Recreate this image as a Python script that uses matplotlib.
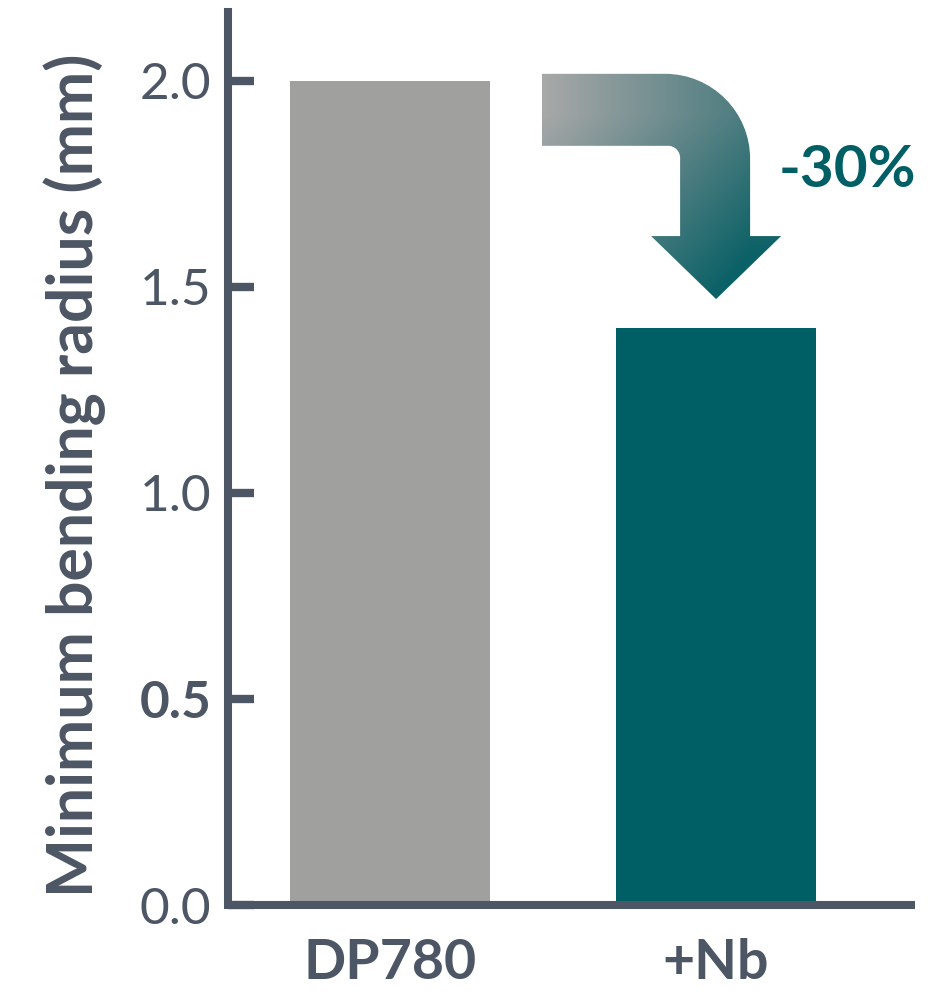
import numpy as np
import matplotlib
matplotlib.use("Agg")
import matplotlib.pyplot as plt
from matplotlib.path import Path
from matplotlib.patches import PathPatch
from matplotlib.colors import LinearSegmentedColormap

# Daten
categories = ["DP780", "+Nb"]
values = [2.0, 1.4]
bar_colors = ["#a0a09f", "#005f64"]
yticks = [0.0, 0.5, 1.0, 1.5, 2.0]
change_label = "-30%"

axis_col = "#4d5664"
teal = "#005f64"

plt.rcParams["font.family"] = ["Lato", "DejaVu Sans"]

W, H = 946, 996
fig = plt.figure(figsize=(W / 100, H / 100), dpi=100)
ax = fig.add_axes([228 / W, 1 - 905 / H, (915 - 228) / W, (905 - 12) / H])

x = np.arange(len(categories))
ax.bar(x, values, width=0.613, color=bar_colors, zorder=1)

ax.set_xlim(-0.497, 1.61)
ax.set_ylim(0, 2.167)
ax.set_yticks(yticks)
ax.set_yticklabels([f"{v:.1f}" for v in yticks])
ax.set_xticks(x)
ax.set_xticklabels(categories)

for s in ["top", "right"]:
    ax.spines[s].set_visible(False)
for s in ["left", "bottom"]:
    ax.spines[s].set_color(axis_col)
    ax.spines[s].set_linewidth(5.8)
    ax.spines[s].set_zorder(3)
ax.spines["bottom"].set_capstyle("butt")

ax.tick_params(axis="y", direction="in", length=19, width=6, color=axis_col,
               labelsize=37, labelcolor=axis_col, pad=12)
ax.tick_params(axis="x", length=0, labelsize=40, labelcolor=axis_col, pad=24)
for lbl in ax.get_xticklabels():
    lbl.set_fontweight("bold")
for lbl in ax.get_yticklabels():
    if lbl.get_text() == "0.5":
        lbl.set_fontweight("bold")

ax.set_ylabel("Minimum bending radius (mm)", fontsize=45, color=axis_col,
              fontweight="bold")
ax.yaxis.set_label_coords(-0.178, 0.4815)

# Pfeil mit Farbverlauf (in Pixelkoordinaten)
ov = fig.add_axes([0, 0, 1, 1], zorder=5)
ov.set_xlim(0, W)
ov.set_ylim(H, 0)
ov.axis("off")


def to_px(xd, yd):
    dx, dy = ax.transData.transform((xd, yd))
    return dx, H - dy


bx_right, btop = to_px(x[0] + 0.613 / 2, values[0])
tip_x, tip_y = to_px(x[1], values[1])
L = bx_right + 52
T = btop - 7
w = 72
tip_y -= 29
yb = tip_y - 63
xo = tip_x + 34
xi = xo - 70
R, r = 85, 12
hw = 65
k = 0.5523

verts = [
    (L, T), (xo - R, T),
    (xo - R + k * R, T), (xo, T + R - k * R), (xo, T + R),
    (xo, yb), (tip_x + hw, yb), (tip_x, tip_y), (tip_x - hw, yb), (xi, yb),
    (xi, T + w + r),
    (xi, T + w + r - k * r), (xi - r + k * r, T + w), (xi - r, T + w),
    (L, T + w), (L, T),
]
codes = [Path.MOVETO, Path.LINETO,
         Path.CURVE4, Path.CURVE4, Path.CURVE4,
         Path.LINETO, Path.LINETO, Path.LINETO, Path.LINETO, Path.LINETO,
         Path.LINETO,
         Path.CURVE4, Path.CURVE4, Path.CURVE4,
         Path.LINETO, Path.CLOSEPOLY]
path = Path(verts, codes)
patch = PathPatch(path, facecolor="none", edgecolor="none")
ov.add_patch(patch)

gx, gy = np.meshgrid(np.linspace(0, W, 400), np.linspace(0, H, 400))
t = np.clip((gx - L) / (xo - L), 0, 1) * 0.55 + np.clip((gy - T - 40) / (tip_y - T - 40), 0, 1) * 0.45
cmap = LinearSegmentedColormap.from_list("arr", ["#a8a8a8", "#5b8386", "#0a6166"])
im = ov.imshow(t, extent=(0, W, H, 0), cmap=cmap, vmin=0, vmax=0.9,
               interpolation="bilinear", aspect="auto")
im.set_clip_path(patch)

ov.text(916, 170, change_label, color=teal, fontsize=42, fontweight="bold",
        ha="right", va="center")

fig.savefig("out.png", dpi=100)
